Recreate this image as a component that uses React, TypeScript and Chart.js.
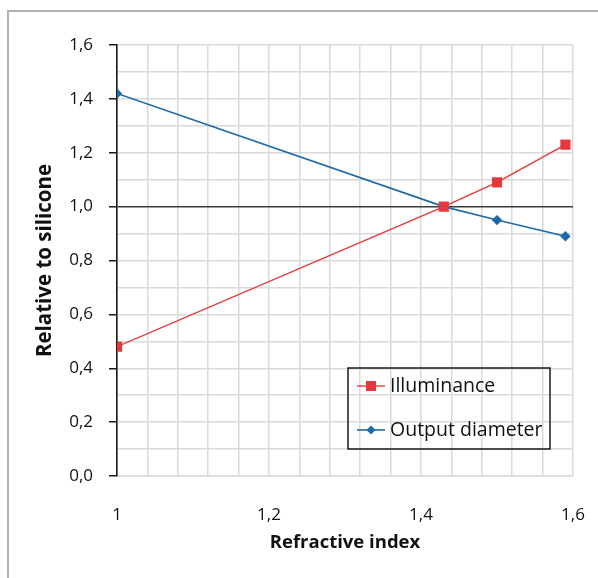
import React, { useEffect, useRef } from 'react';
import { Chart, registerables } from 'chart.js';

Chart.register(...registerables);

const refractiveIndex = [1, 1.43, 1.5, 1.59];
const illuminance = [0.48, 1.0, 1.09, 1.23];
const outputDiameter = [1.42, 1.0, 0.95, 0.89];
const seriesNames = ['Illuminance', 'Output diameter'];
const xTitle = 'Refractive index';
const yTitle = 'Relative to silicone';

const FONT = "'Open Sans', sans-serif";
const RED = '#e5383d';
const BLUE = '#1e6aa8';
const GRID = '#dadada';

const fmt = (v: number, dec: number) => v.toFixed(dec).replace('.', ',');
const isMajor = (v: number) => Math.abs(v * 5 - Math.round(v * 5)) < 1e-6;

const boxLegend = {
  id: 'boxLegend',
  afterDraw(chart: any) {
    const { ctx, chartArea } = chart;
    const x0 = chartArea.left + 231;
    const y0 = 368;
    const w = 202;
    const h = 81;
    ctx.save();
    ctx.strokeStyle = '#1a1a1a';
    ctx.lineWidth = 1.5;
    ctx.strokeRect(x0, y0, w, h);
    chart.data.datasets.forEach((ds: any, i: number) => {
      const cy = y0 + 18 + i * 44;
      ctx.strokeStyle = ds.borderColor;
      ctx.lineWidth = ds.borderWidth;
      ctx.beginPath();
      ctx.moveTo(x0 + 9, cy);
      ctx.lineTo(x0 + 37, cy);
      ctx.stroke();
      ctx.fillStyle = ds.pointBackgroundColor;
      const mx = x0 + 23;
      if (ds.pointStyle === 'rect') {
        ctx.fillRect(mx - 5, cy - 5, 10, 10);
      } else {
        ctx.beginPath();
        ctx.moveTo(mx, cy - 4.5);
        ctx.lineTo(mx + 4.5, cy);
        ctx.lineTo(mx, cy + 4.5);
        ctx.lineTo(mx - 4.5, cy);
        ctx.closePath();
        ctx.fill();
      }
      ctx.fillStyle = '#111';
      ctx.font = `19.5px ${FONT}`;
      ctx.textBaseline = 'middle';
      ctx.textAlign = 'left';
      ctx.fillText(ds.label, x0 + 42, cy);
    });
    ctx.restore();
  },
};

export default function App() {
  const ref = useRef<HTMLCanvasElement>(null);
  useEffect(() => {
    if (!ref.current) return;
    const chart = new Chart(ref.current, {
      type: 'line',
      data: {
        datasets: [
          {
            label: seriesNames[0],
            data: refractiveIndex.map((x, i) => ({ x, y: illuminance[i] })),
            borderColor: RED,
            backgroundColor: RED,
            pointBackgroundColor: RED,
            pointBorderColor: RED,
            borderWidth: 1.4,
            pointStyle: 'rect',
            pointRadius: 7.2,
            pointBorderWidth: 0,
          },
          {
            label: seriesNames[1],
            data: refractiveIndex.map((x, i) => ({ x, y: outputDiameter[i] })),
            borderColor: BLUE,
            backgroundColor: BLUE,
            pointBackgroundColor: BLUE,
            pointBorderColor: BLUE,
            borderWidth: 1.6,
            pointStyle: 'rectRot',
            pointRadius: 5.2,
            pointBorderWidth: 0,
          },
        ],
      },
      options: {
        animation: false,
        responsive: false,
        maintainAspectRatio: false,
        layout: { padding: { top: 45, right: 25, left: 0, bottom: 0 } },
        plugins: { legend: { display: false }, tooltip: { enabled: false } },
        scales: {
          x: {
            type: 'linear',
            min: 1,
            max: 1.6,
            afterFit: (s: any) => {
              s.height = 102;
              s.paddingLeft = 0;
              s.paddingRight = 0;
            },
            ticks: {
              stepSize: 0.04,
              autoSkip: false,
              maxRotation: 0,
              padding: 29,
              color: '#111',
              font: { family: FONT, size: 17 },
              callback: (v: any) => {
                const n = Number(v);
                if (!isMajor(n)) return '';
                return Math.abs(n - 1) < 1e-6 ? '1' : fmt(n, 1);
              },
            },
            grid: { color: GRID, lineWidth: 1.5, drawTicks: false },
            border: { color: GRID, width: 1.5 },
            title: {
              display: true,
              text: xTitle,
              color: '#111',
              font: { family: FONT, size: 18.5, weight: 'bold' },
              padding: { top: 0, bottom: 24 },
            },
          },
          y: {
            type: 'linear',
            min: 0,
            max: 1.6,
            afterFit: (s: any) => {
              s.width = 117;
              s.paddingTop = 0;
              s.paddingBottom = 0;
            },
            ticks: {
              stepSize: 0.1,
              autoSkip: false,
              padding: 16,
              color: '#111',
              font: { family: FONT, size: 17 },
              callback: (v: any) => {
                const n = Number(v);
                return isMajor(n) ? fmt(n, 1) : '';
              },
            },
            grid: {
              color: (c: any) =>
                c.tick && Math.abs(c.tick.value - 1) < 1e-6 ? '#3a3a3a' : GRID,
              lineWidth: (c: any) =>
                c.tick && Math.abs(c.tick.value - 1) < 1e-6 ? 1.6 : 1.5,
              tickColor: (c: any) =>
                c.tick && isMajor(c.tick.value) ? '#1a1a1a' : 'rgba(0,0,0,0)',
              tickLength: 8,
              tickWidth: 1.5,
            },
            border: { color: '#1a1a1a', width: 1.6 },
            title: {
              display: true,
              text: yTitle,
              color: '#111',
              font: { family: FONT, size: 20.5, weight: 'bold' },
              padding: { top: 33, bottom: 0 },
            },
          },
        },
      },
      plugins: [boxLegend],
    } as any);
    return () => chart.destroy();
  }, []);
  return (
    <div>
      <div
        style={{
          position: 'fixed',
          left: 7,
          top: 10,
          width: 591,
          height: 568,
          borderTop: '2px solid #b3b3b3',
          borderLeft: '2px solid #b3b3b3',
          boxSizing: 'border-box',
        }}
      />
      <canvas
        ref={ref}
        width={598}
        height={578}
        style={{ position: 'fixed', left: 0, top: 0, width: 598, height: 578 }}
      />
    </div>
  );
}
